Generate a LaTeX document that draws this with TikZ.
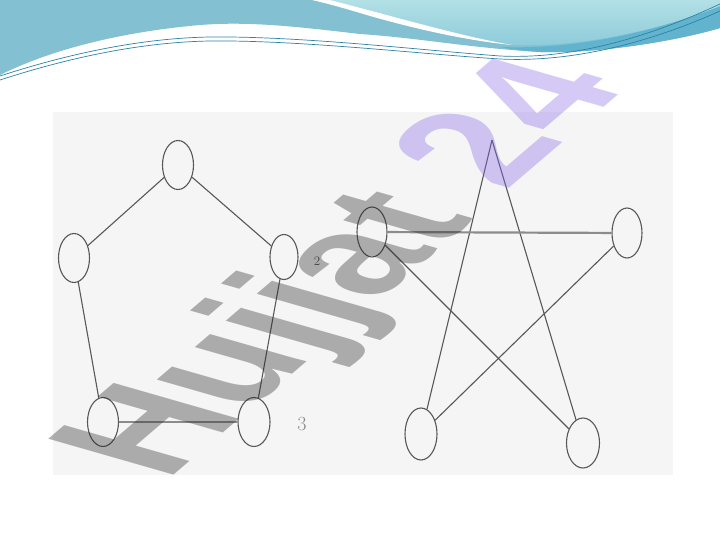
\documentclass[tikz,border=0pt]{standalone}
\usepackage{fontspec}
\newfontfamily\wmfont{Liberation Sans}
\usetikzlibrary{shapes.geometric}
\definecolor{mainblue}{RGB}{130,192,210}
\definecolor{cyantop}{RGB}{178,224,229}
\definecolor{cyanbot}{RGB}{140,202,218}
\definecolor{tealband}{RGB}{98,180,206}
\definecolor{wavline}{RGB}{45,130,165}
\definecolor{panel}{RGB}{245,245,245}
\definecolor{edgecol}{RGB}{88,88,88}
\definecolor{hcol}{RGB}{140,140,140}
\definecolor{wmgrey}{RGB}{35,35,35}
\definecolor{wmpurple}{RGB}{135,101,232}
\begin{document}
\begin{tikzpicture}[x=1pt,y=-1pt,
  vtx/.style={ellipse, draw=edgecol, line width=1.1pt, minimum width=31pt, minimum height=49pt, inner sep=0pt},
  edge/.style={draw=edgecol, line width=1.1pt},
  hedge/.style={draw=hcol, line width=2.2pt},
  wave/.style={draw=wavline, line width=0.7pt},
  lbl/.style={inner sep=0pt, text=edgecol}]
\useasboundingbox (0,0) rectangle (720,540);
\fill[white] (0,0) rectangle (720,540);
% top wave
\fill[mainblue] (0,0) -- (720,0) -- (720,28) .. controls (680,40) and (600,54) .. (540,52)
  .. controls (470,48) and (420,38) .. (360,34) .. controls (300,27) and (250,21) .. (200,25)
  .. controls (120,32) and (50,50) .. (0,75) -- cycle;
\fill[tealband] (500,47) .. controls (580,50) and (660,30) .. (720,6) -- (720,28)
  .. controls (680,40) and (600,54) .. (540,52) .. controls (525,51) and (510,49) .. (500,47) -- cycle;
\shade[top color=cyantop, bottom color=cyanbot] (330,0) -- (720,0) -- (720,6)
  .. controls (660,30) and (580,48) .. (510,45) .. controls (460,36) and (400,18) .. (330,0) -- cycle;
\fill[white] (312,0) -- (330,0) .. controls (400,18) and (460,36) .. (512,45)
  .. controls (460,40) and (400,25) .. (360,13) .. controls (340,7) and (325,3) .. (312,0) -- cycle;
\draw[wave] (0,76) .. controls (80,50) and (150,38) .. (210,37) .. controls (300,36) and (420,50) .. (500,56)
  .. controls (580,60) and (660,32) .. (720,4);
\draw[wave] (0,80) .. controls (80,54) and (150,42) .. (210,41) .. controls (300,40) and (420,54) .. (500,59)
  .. controls (580,63) and (660,38) .. (720,11);
% panel
\fill[panel] (53,112) rectangle (673,475);
% pentagon graph
\node[vtx] (p1) at (178,165) {};
\node[vtx] (p2) at (74,258) {};
\node[vtx, minimum width=28pt, minimum height=45pt] (p3) at (284,257) {};
\node[vtx] (p4) at (103,422) {};
\node[vtx, minimum width=32pt] (p5) at (254,422) {};
\draw[edge] (p1) -- (p2);
\draw[edge] (p1) -- (p3);
\draw[edge] (p2) -- (p4);
\draw[edge] (p3) -- (p5);
\draw[hedge] (p4) -- (p5);
% star graph
\coordinate (s0) at (492,140);
\node[vtx, minimum width=30pt, minimum height=50pt] (s1) at (372,232) {};
\node[vtx, minimum width=30pt, minimum height=50pt] (s2) at (627,233) {};
\node[vtx, minimum width=32pt, minimum height=52pt] (s3) at (421,434) {};
\node[vtx, minimum width=33pt, minimum height=50pt] (s4) at (583,443) {};
\draw[edge] (s0) -- (s3);
\draw[edge] (s0) -- (s4);
\draw[edge] (s1) -- (s4);
\draw[edge] (s2) -- (s3);
\draw[hedge] (s1) -- (s2);
% labels
\node[lbl, font=\fontsize{13}{13}\selectfont] (l2) at (317,261) {2};
\node[lbl, text=hcol, font=\fontsize{20}{20}\selectfont] (l3) at (302,424) {3};
% watermark
\begin{scope}[cm={0.722,0.617,-1.182,0.339,(166,482)}]
\node[transform shape, anchor=base west, inner sep=0pt, text opacity=0.35,
  font=\wmfont\bfseries\fontsize{154}{154}\selectfont] (wm) at (0,0)
  {\textcolor{wmgrey}{Hujjat} \textcolor{wmpurple}{24}};
\end{scope}
\end{tikzpicture}
\end{document}
